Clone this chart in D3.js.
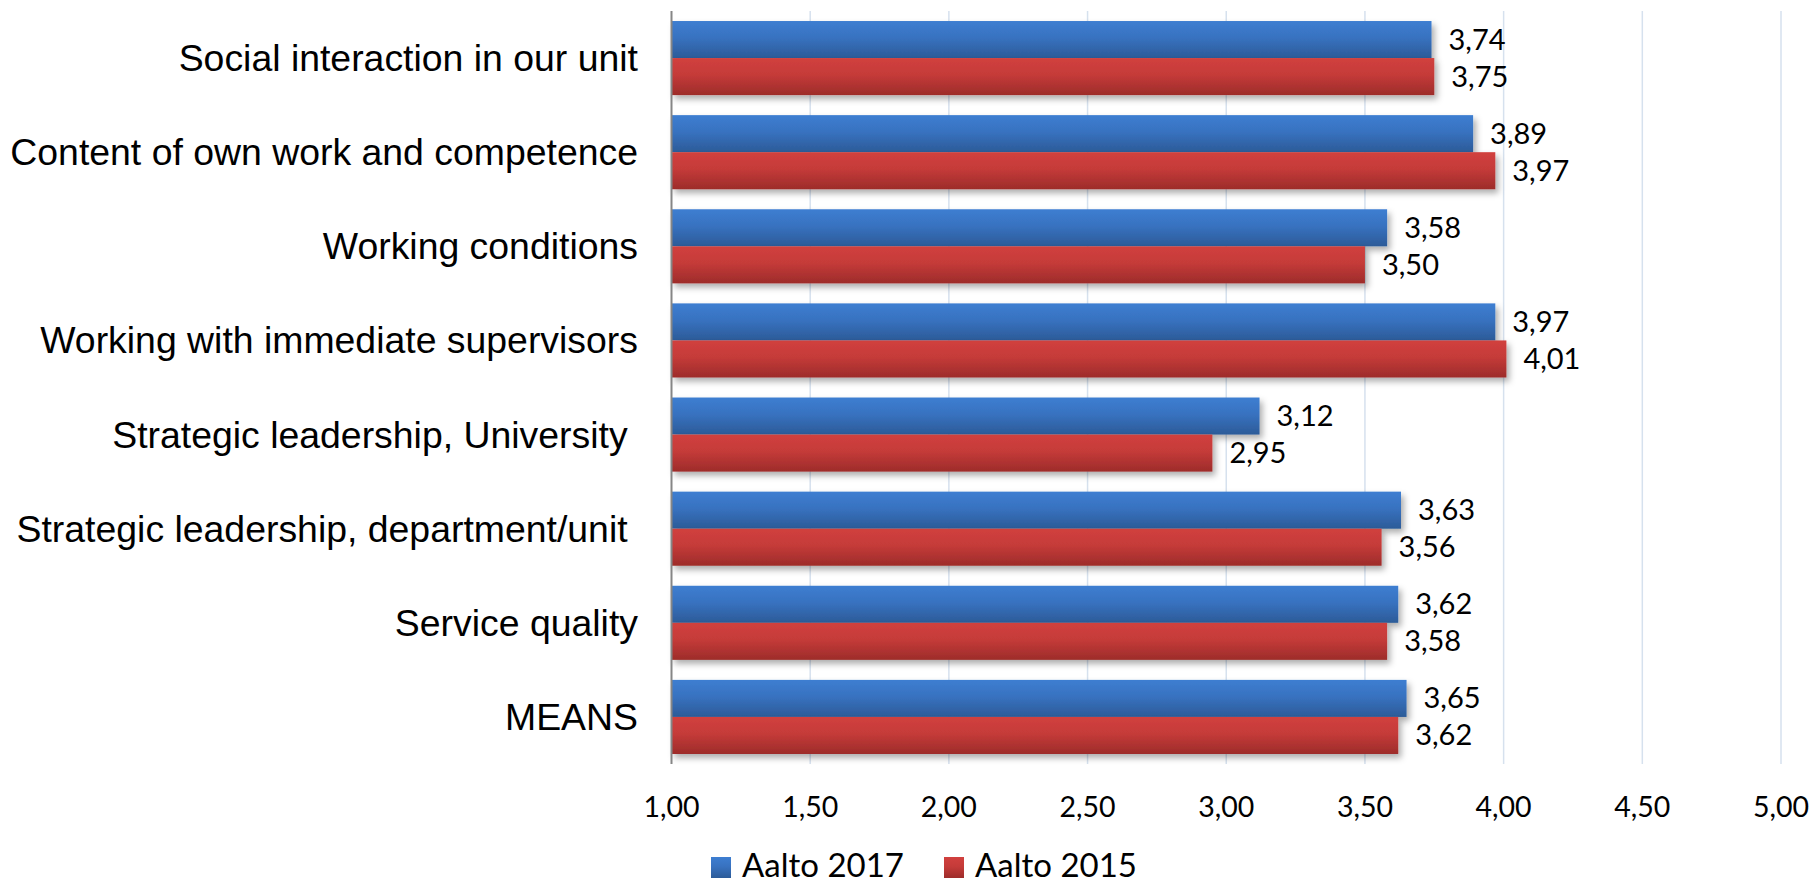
<!DOCTYPE html>
<html>
<head>
<meta charset="utf-8">
<script src="https://cdn.jsdelivr.net/npm/d3@7"></script>
<style>
  html, body { margin: 0; padding: 0; background: #ffffff; }
  svg { display: block; }
</style>
</head>
<body>
<svg id="chart" width="1816" height="885"></svg>
<script>
// ---- data ----
const categories = [
  "Social interaction in our unit",
  "Content of own work and competence",
  "Working conditions",
  "Working with immediate supervisors",
  "Strategic leadership, University ",
  "Strategic leadership, department/unit ",
  "Service quality",
  "MEANS"
];
const seriesNames = ["Aalto 2017", "Aalto 2015"];
const values2017 = [3.74, 3.89, 3.58, 3.97, 3.12, 3.63, 3.62, 3.65];
const values2015 = [3.75, 3.97, 3.50, 4.01, 2.95, 3.56, 3.58, 3.62];
const xTicks = [1.0, 1.5, 2.0, 2.5, 3.0, 3.5, 4.0, 4.5, 5.0];

// ---- layout ----
const W = 1816, H = 885;
const plot = { left: 671.5, right: 1781, top: 11, bottom: 764 };
const svg = d3.select("#chart");
const fmt = v => d3.format(".2f")(v).replace(".", ",");

const x = d3.scaleLinear().domain([1, 5]).range([plot.left, plot.right]);
const y = d3.scaleBand().domain(categories).range([plot.top, plot.bottom]).paddingInner(0.2128).paddingOuter(0.1064);
const sub = d3.scaleBand().domain(seriesNames).range([0, y.bandwidth()]);

const defs = svg.append("defs");
function grad(id, stops) {
  const g = defs.append("linearGradient").attr("id", id).attr("x1", 0).attr("y1", 0).attr("x2", 0).attr("y2", 1);
  stops.forEach(s => g.append("stop").attr("offset", s[0]).attr("stop-color", s[1]));
}
grad("gBlue", [[0, "#3d7ed1"], [0.45, "#3872c0"], [1, "#2c5b98"]]);
grad("gRed", [[0, "#d1403e"], [0.45, "#c53b39"], [1, "#9d2c2a"]]);
const fills = { "Aalto 2017": "url(#gBlue)", "Aalto 2015": "url(#gRed)" };

const f = defs.append("filter").attr("id", "shadow").attr("x", "-5%").attr("y", "-30%").attr("width", "110%").attr("height", "170%");
f.append("feDropShadow").attr("dx", 3).attr("dy", 4).attr("stdDeviation", 3).attr("flood-color", "#000").attr("flood-opacity", 0.32);

// gridlines
svg.append("g").selectAll("line").data(xTicks.slice(1)).join("line")
  .attr("x1", d => x(d)).attr("x2", d => x(d))
  .attr("y1", plot.top).attr("y2", plot.bottom)
  .attr("stroke", "#d6e1ee").attr("stroke-width", 1.5);

// bars
const rows = categories.map((c, i) => ({ cat: c, vals: [
  { s: seriesNames[0], v: values2017[i] },
  { s: seriesNames[1], v: values2015[i] }
]}));
const gRows = svg.append("g").selectAll("g").data(rows).join("g")
  .attr("transform", d => `translate(0,${y(d.cat)})`);
gRows.selectAll("rect").data(d => d.vals).join("rect")
  .attr("x", x(1))
  .attr("y", d => sub(d.s))
  .attr("width", d => x(d.v) - x(1))
  .attr("height", sub.bandwidth())
  .attr("fill", d => fills[d.s])
  .attr("filter", "url(#shadow)");

// data labels
gRows.selectAll("text").data(d => d.vals).join("text")
  .attr("x", d => x(d.v) + 17)
  .attr("y", d => sub(d.s) + sub.bandwidth() / 2 + 10)
  .attr("font-family", "Lato, 'Open Sans', sans-serif")
  .attr("font-size", 29)
  .attr("fill", "#000")
  .text(d => fmt(d.v));

// y axis line
svg.append("line")
  .attr("x1", plot.left).attr("x2", plot.left)
  .attr("y1", plot.top).attr("y2", plot.bottom)
  .attr("stroke", "#868686").attr("stroke-width", 2);

// category labels
svg.append("g").selectAll("text").data(categories).join("text")
  .attr("x", 638)
  .attr("y", d => y(d) + y.bandwidth() / 2 + 13)
  .attr("text-anchor", "end")
  .attr("font-family", "'Liberation Sans', Arial, sans-serif")
  .attr("font-size", 37.4)
  .attr("fill", "#000")
  .style("white-space", "pre")
  .text(d => d);

// x tick labels
svg.append("g").selectAll("text").data(xTicks).join("text")
  .attr("x", d => x(d))
  .attr("y", 817)
  .attr("text-anchor", "middle")
  .attr("font-family", "Lato, 'Open Sans', sans-serif")
  .attr("font-size", 28.5)
  .attr("fill", "#000")
  .text(d => fmt(d));

// legend
const legend = svg.append("g");
let lx = 711;
seriesNames.forEach(name => {
  legend.append("rect").attr("x", lx).attr("y", 857).attr("width", 20).attr("height", 21).attr("fill", fills[name]);
  const t = legend.append("text").attr("x", lx + 31).attr("y", 877)
    .attr("font-family", "Lato, 'Open Sans', sans-serif")
    .attr("font-size", 33).attr("fill", "#000").text(name);
  lx = lx + 31 + t.node().getComputedTextLength() + 40;
});
</script>
</body>
</html>
